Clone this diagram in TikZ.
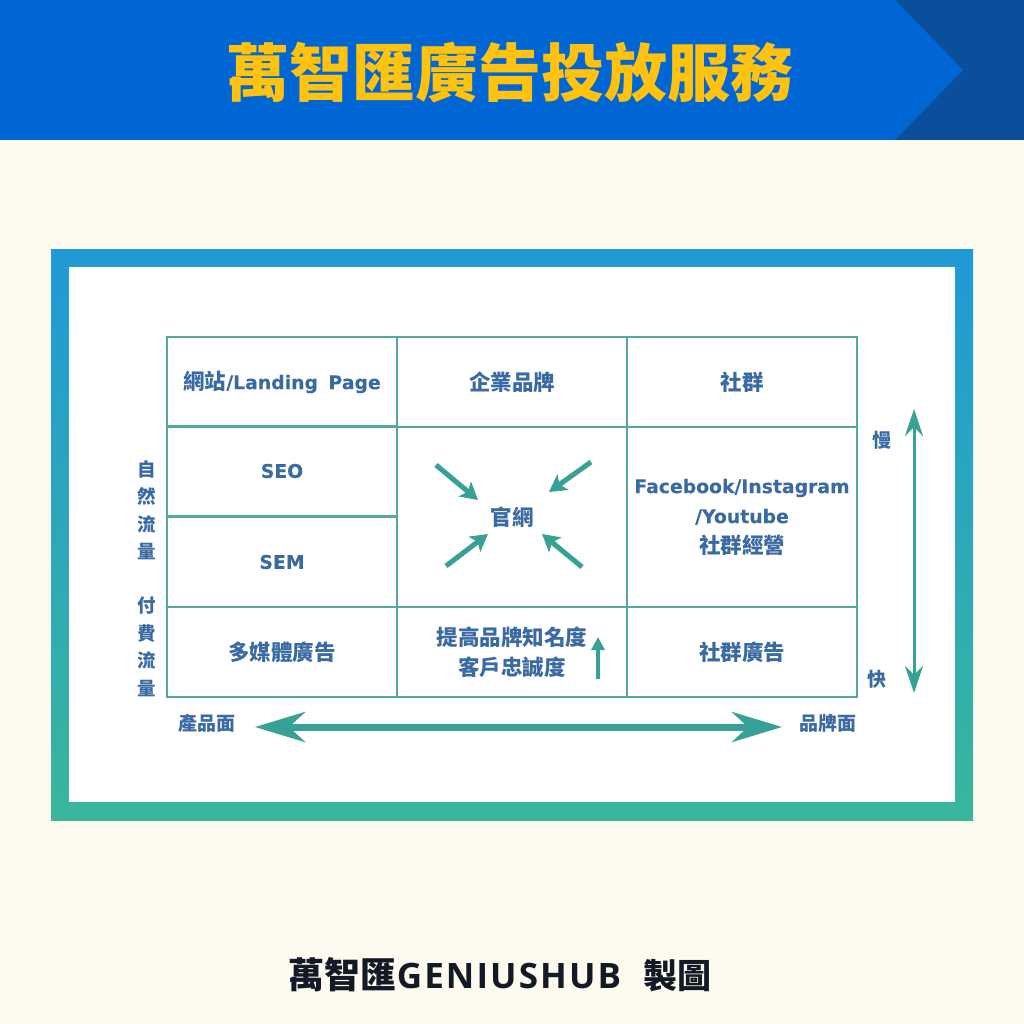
\documentclass[tikz,border=0pt]{standalone}
\usepackage{fontspec}
\usetikzlibrary{arrows.meta}
\newfontfamily\cjk{Noto Sans CJK TC}
\newfontfamily\lat[FakeBold=0.08]{DejaVu Sans}
\newfontfamily\foot[LetterSpace=6]{Open Sans}
\newcommand{\latsz}{\lat\fontsize{18.8}{30}\selectfont}
\definecolor{bg}{HTML}{FDFBEF}
\definecolor{hblue}{HTML}{0066D4}
\definecolor{hdark}{HTML}{0B4E9C}
\definecolor{titley}{HTML}{FFC20E}
\definecolor{frametop}{HTML}{1F9AD6}
\definecolor{framebot}{HTML}{39B69C}
\definecolor{gridc}{HTML}{55A89E}
\definecolor{txt}{HTML}{3A6AA2}
\definecolor{arr}{HTML}{36A194}
\definecolor{foottxt}{HTML}{131A26}
\tikzset{
  cell/.style={draw=gridc, line width=1.8pt, minimum width=230pt, text=txt, align=center, inner sep=0pt,
    font=\cjk\bfseries\fontsize{21.5}{30}\selectfont},
  sidelbl/.style={text=txt, align=center, inner sep=0pt, font=\cjk\bfseries\fontsize{18.5}{27.5}\selectfont},
  inarrow/.style={draw=arr, line width=5pt, -{Stealth[length=17pt,width=19pt,inset=4pt]}},
}
\begin{document}
\begin{tikzpicture}[x=1pt,y=-1pt]
\useasboundingbox (0,0) rectangle (1024,1024);
\fill[bg] (0,0) rectangle (1024,1024);
% header
\fill[hdark] (0,0) rectangle (1024,140);
\fill[hblue] (0,0) -- (895,0) -- (963,70) -- (895,140) -- (0,140) -- cycle;
\node[text=titley, font=\cjk\bfseries\fontsize{63}{63}\selectfont, inner sep=0pt] (title) at (510,72) {萬智匯廣告投放服務};
% frame
\shade[top color=frametop, bottom color=framebot] (51,249) rectangle (973,820);
\fill[white] (69,267) rectangle (955,802);
% grid cells
\node[cell, minimum height=90pt] (c11) at (282,382) {網站{\latsz /Landing\hspace{4pt} Page}};
\node[cell, minimum height=90pt] (c12) at (512,382) {企業品牌};
\node[cell, minimum height=90pt] (c13) at (742,382) {社群};
\node[cell, minimum height=90pt] (seo) at (282,471) {\latsz SEO};
\node[cell, minimum height=90pt] (sem) at (282,562) {\latsz SEM};
\node[cell, minimum height=180pt] (site) at (512,517) {官網};
\node[cell, minimum height=180pt] (fb) at (742,517) {{\latsz Facebook/Instagram}\\{\latsz /Youtube}\\社群經營};
\node[cell, minimum height=90pt] (c31) at (282,652) {多媒體廣告};
\node[cell, minimum height=90pt] (c32) at (512,652) {提高品牌知名度\\客戶忠誠度};
\node[cell, minimum height=90pt] (c33) at (742,652) {社群廣告};
% side labels
\node[sidelbl] (nat) at (147,510) {自\\然\\流\\量};
\node[sidelbl] (paid) at (147,647) {付\\費\\流\\量};
\node[sidelbl, font=\cjk\bfseries\fontsize{19}{19}\selectfont] (slow) at (882,440) {慢};
\node[sidelbl, font=\cjk\bfseries\fontsize{19}{19}\selectfont] (fast) at (877,679) {快};
\node[sidelbl, font=\cjk\bfseries\fontsize{19}{19}\selectfont] (prod) at (207,723) {產品面};
\node[sidelbl, font=\cjk\bfseries\fontsize{19}{19}\selectfont] (brand) at (828,723) {品牌面};
% center arrows
\coordinate (a1s) at (436,465); \coordinate (a1e) at (478,500);
\coordinate (a2s) at (591,462); \coordinate (a2e) at (549,492);
\coordinate (a3s) at (446,566); \coordinate (a3e) at (488,534);
\coordinate (a4s) at (582,567); \coordinate (a4e) at (542,534);
\draw[inarrow] (a1s) -- (a1e);
\draw[inarrow] (a2s) -- (a2e);
\draw[inarrow] (a3s) -- (a3e);
\draw[inarrow] (a4s) -- (a4e);
% small up arrow
\coordinate (ups) at (598,679); \coordinate (upe) at (598,637);
\draw[draw=arr, line width=3.2pt, -{Triangle[length=13pt,width=13pt]}] (ups) -- (upe);
% vertical double arrow
\coordinate (vtop) at (914,409); \coordinate (vbot) at (914,693);
\draw[draw=arr, line width=3pt, {Stealth[length=27pt,width=18pt,inset=9pt]}-{Stealth[length=27pt,width=18pt,inset=9pt]}] (vtop) -- (vbot);
% horizontal double arrow
\coordinate (hl) at (255,727); \coordinate (hr) at (782,727);
\draw[draw=arr, line width=7pt, {Stealth[length=50pt,width=30pt,inset=16pt]}-{Stealth[length=50pt,width=30pt,inset=16pt]}] (hl) -- (hr);
% footer
\node[text=foottxt, inner sep=0pt] (footer) at (500,975) {{\cjk\bfseries\fontsize{36}{36}\selectfont 萬智匯}{\foot\bfseries\fontsize{35}{35}\selectfont GENIUSHUB}\hspace{22pt}{\cjk\bfseries\fontsize{34}{34}\selectfont 製圖}};
\end{tikzpicture}
\end{document}
